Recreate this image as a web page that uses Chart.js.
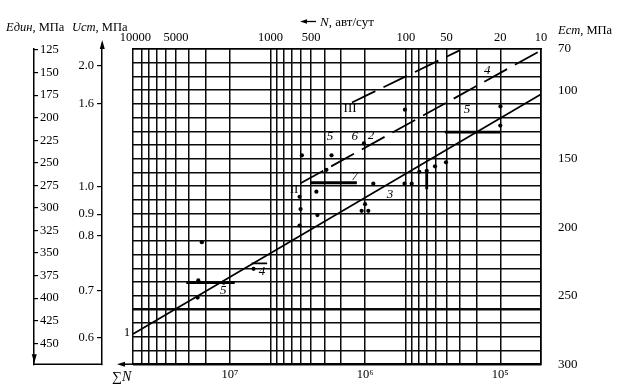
<!DOCTYPE html>
<html><head><meta charset="utf-8">
<script src="https://cdn.jsdelivr.net/npm/chart.js@4.4.1/dist/chart.umd.min.js"></script>
<style>html,body{margin:0;padding:0;background:#fff}#wrap{width:626px;height:389px;position:relative}</style>
</head><body><div id="wrap"><canvas id="c"></canvas></div>
<script>
// ---- scale definitions / tick labels ----
const sumNRange = [5e4, 5.2e7];
const sumNGrid = [5.2e7,4.5e7,4e7,3.5e7,3e7,2.5e7,2e7,1.5e7,1e7,5e6,4.5e6,4e6,3.5e6,3e6,2.5e6,2e6,1.5e6,1e6,5e5,4.5e5,4e5,3.5e5,3e5,2.5e5,2e5,1.5e5,1e5,5e4];
const sumNLabelValues = [1e7, 1e6, 1e5];
const sumNLabelTexts = ['10\u2077', '10\u2076', '10\u2075'];
const nRange = [10, 10400];
const nTicks = [10000, 5000, 1000, 500, 100, 50, 20, 10];
const estRange = [70, 300];
const estLabels = [70, 100, 150, 200, 250, 300];
const edinRange = [123.9, 473.1];
const edinTicks = [125,150,175,200,225,250,275,300,325,350,375,400,425,450];
const ustLabels = ['2.0','1.6','1.0','0.9','0.8','0.7','0.6'];
const ustAtEst = [82.1, 109.9, 170.7, 190.5, 206.2, 246.1, 280.7];

// ---- series (x = ΣN, y = Ест, МПа) ----
const line1 = [{x:5.2e7, y:278}, {x:5e4, y:103}];
const line2 = [{x:3e6, y:168}, {x:5e4, y:71}];
const line3 = [{x:1.25e6, y:109}, {x:2e5, y:71}];
const segA = [{x:2.1e7, y:240.5}, {x:9.2e6, y:240.5}];
const segB = [{x:6.9e6, y:226.4}, {x:5.3e6, y:226.4}];
const segC = [{x:2.55e6, y:167.6}, {x:1.15e6, y:167.6}];
const segD = [{x:2.57e5, y:130.6}, {x:1e5, y:130.6}];
const segV = [{x:3.5e5, y:158.5}, {x:3.5e5, y:172.3}];
const pointsX = [1.61e7,1.71e7,1.11e7,1.73e7,6.68e6,2.93e6,1.77e6,1.02e6,1.93e6,2.29e6,3.05e6,3.0e6,2.25e6,3.05e6,8.69e5,5.11e5,4.52e5,3.97e5,3.5e5,3.04e5,2.52e5,1.0e6,1.06e6,9.46e5,5.07e5,9.97e4,1e5];
const pointsY = [211.0,238.9,240.5,251.4,230.4,147.6,147.6,138.9,158.2,174.1,177.8,186.8,191.2,198.8,168.3,168.3,168.3,159.6,158.9,155.6,152.7,183.2,188.1,188.1,114.3,111.9,125.9];
const labelTexts = ['1','II','III','3','7','5','6','2','4','5','4','5'];
const labelItalic = [false,false,false,true,true,true,true,true,true,true,true,true];
const labelX = [5.76e7,3.35e6,1.29e6,6.54e5,1.19e6,1.82e6,1.19e6,9.04e5,1.25e5,1.76e5,5.78e6,1.12e7];
const labelY = [276.8,172.3,113.5,176,162.9,133.9,133.9,133.1,86,114.3,232.6,246.3];

const SERIF = '"Liberation Serif","Times New Roman",serif';
Chart.defaults.color = '#000';
Chart.defaults.font.family = SERIF;

const pts = pointsX.map((x,i)=>({x, y:pointsY[i]}));
const lbl = labelX.map((x,i)=>({x, y:labelY[i]}));

function arrowHead(ctx, x, y, dir, len, half){
  ctx.beginPath();
  if (dir==='up'){ctx.moveTo(x,y);ctx.lineTo(x-half,y+len);ctx.lineTo(x+half,y+len);}
  if (dir==='down'){ctx.moveTo(x,y);ctx.lineTo(x-half,y-len);ctx.lineTo(x+half,y-len);}
  if (dir==='left'){ctx.moveTo(x,y);ctx.lineTo(x+len,y-half);ctx.lineTo(x+len,y+half);}
  ctx.closePath();ctx.fill();
}
function runs(ctx, x, y, parts, size){
  let cx = x;
  ctx.textAlign='left'; ctx.textBaseline='alphabetic';
  for (const [t, it] of parts){
    ctx.font = (it?'italic ':'') + size + 'px ' + SERIF;
    ctx.fillText(t, cx, y);
    cx += ctx.measureText(t).width;
  }
}
const decor = {
  id:'decor',
  beforeDraw(chart){const c=chart.ctx;c.save();c.fillStyle='#fff';c.fillRect(0,0,chart.width,chart.height);c.restore();},
  afterDatasetsDraw(chart){
    const ctx=chart.ctx;
    chart.data.datasets.forEach((ds,i)=>{
      if(!ds.textLabels) return;
      const meta=chart.getDatasetMeta(i);
      ctx.save();ctx.fillStyle='#000';ctx.textAlign='center';ctx.textBaseline='middle';
      meta.data.forEach((el,j)=>{
        ctx.font=(ds.textItalic[j]?'italic ':'')+'13px '+SERIF;
        ctx.fillText(ds.textLabels[j], el.x, el.y);
      });
      ctx.restore();
    });
  },
  afterDraw(chart){
    const ctx=chart.ctx, ca=chart.chartArea;
    const yU=chart.scales.yU, yEd=chart.scales.yEd;
    ctx.save();
    ctx.strokeStyle='#000';ctx.fillStyle='#000';ctx.lineWidth=1.5;
    const ux=Math.round(yU.right)+0.25;
    ctx.beginPath();ctx.moveTo(ux,ca.top);ctx.lineTo(ux,ca.top-6);ctx.stroke();
    arrowHead(ctx,ux,ca.top-9,'up',9,2.5);
    const ex=Math.round(yEd.right)+0.25;
    arrowHead(ctx,ex,ca.bottom-1,'down',9,2.5);
    ctx.beginPath();ctx.moveTo(ex-1,ca.bottom);ctx.lineTo(ux,ca.bottom);ctx.stroke();
    ctx.beginPath();ctx.moveTo(ca.left,ca.bottom);ctx.lineTo(ca.left-10,ca.bottom);ctx.stroke();
    arrowHead(ctx,ca.left-16,ca.bottom,'left',8,2.5);
    ctx.lineWidth=1.3;
    ctx.beginPath();ctx.moveTo(316,21.5);ctx.lineTo(306,21.5);ctx.stroke();
    arrowHead(ctx,300,21.5,'left',7,2.3);
    runs(ctx,320,26,[['N',true],[', авт/сут',false]],13);
    runs(ctx,6,31,[['Eдин',true],[', МПа',false]],12.5);
    runs(ctx,72,31,[['Uст',true],[', МПа',false]],12.5);
    runs(ctx,558,34,[['Ест',true],[', МПа',false]],12.5);
    runs(ctx,112,381,[['\u2211',false],['N',true]],14);
    ctx.restore();
  }
};

const gridCol = '#0a0a0a';
new Chart(document.getElementById('c'), {
  type:'scatter',
  data:{datasets:[
    {data:line1, showLine:true, borderColor:'#000', borderWidth:1.7, pointRadius:0},
    {data:line2, showLine:true, borderColor:'#000', borderWidth:1.8, borderDash:[26,9], pointRadius:0},
    {data:line3, showLine:true, borderColor:'#000', borderWidth:1.8, borderDash:[26,9], pointRadius:0},
    {data:segA, showLine:true, borderColor:'#000', borderWidth:2.8, pointRadius:0},
    {data:segB, showLine:true, borderColor:'#000', borderWidth:1.6, pointRadius:0},
    {data:segC, showLine:true, borderColor:'#000', borderWidth:2.8, pointRadius:0},
    {data:segD, showLine:true, borderColor:'#000', borderWidth:2.8, pointRadius:0},
    {data:segV, showLine:true, borderColor:'#000', borderWidth:2.8, pointRadius:0},
    {data:pts, showLine:false, pointRadius:2.1, backgroundColor:'#000', borderWidth:0},
    {data:lbl, showLine:false, pointRadius:0, textLabels:labelTexts, textItalic:labelItalic, clip:false}
  ]},
  options:{
    responsive:true, maintainAspectRatio:false, animation:false,
    layout:{padding:{left:0,right:0,top:0,bottom:0}},
    plugins:{legend:{display:false}, tooltip:{enabled:false}},
    scales:{
      x:{type:'logarithmic', position:'bottom', min:sumNRange[0], max:sumNRange[1], reverse:true,
        afterBuildTicks:s=>{s.ticks=sumNGrid.map(v=>({value:v}));},
        afterFit:s=>{s.height=23;},
        grid:{color:gridCol, lineWidth:1.5, drawTicks:false},
        border:{display:true,color:'#000',width:1.6},
        ticks:{autoSkip:false,maxRotation:0,padding:3,font:{size:12.5},
          callback:v=>{const i=sumNLabelValues.indexOf(v);return i>=0?sumNLabelTexts[i]:'';}}},
      xTop:{type:'logarithmic', axis:'x', position:'top', min:nRange[0], max:nRange[1], reverse:true,
        afterBuildTicks:s=>{s.ticks=nTicks.map(v=>({value:v}));},
        afterFit:s=>{s.height=49;},
        grid:{display:false,drawTicks:false},
        border:{display:true,color:'#000',width:1.6},
        ticks:{autoSkip:false,maxRotation:0,padding:4,font:{size:12.5},callback:v=>String(v)}},
      y:{type:'linear', position:'right', min:estRange[0], max:estRange[1], reverse:true,
        ticks:{stepSize:10,padding:17,font:{size:13},autoSkip:false,
          callback:v=>estLabels.includes(Math.round(v))?String(Math.round(v)):''},
        afterFit:s=>{s.width=85;},
        grid:{color:gridCol, lineWidth:c=>(c.tick&&Math.round(c.tick.value)===260)?2.5:1.4, drawTicks:false},
        border:{display:true,color:'#000',width:1.6}},
      yU:{type:'linear', axis:'y', position:'left', weight:2, min:estRange[0], max:estRange[1], reverse:true,
        afterBuildTicks:s=>{s.ticks=ustAtEst.map(v=>({value:v}));},
        afterFit:s=>{s.width=68;},
        grid:{drawOnChartArea:false,drawTicks:true,tickLength:5,color:'#000',lineWidth:1.2},
        border:{display:true,color:'#000',width:1.5},
        ticks:{autoSkip:false,padding:3,font:{size:12.5},callback:(v,i)=>ustLabels[i]}},
      yEd:{type:'linear', axis:'y', position:'left', weight:3, min:edinRange[0], max:edinRange[1], reverse:true,
        afterBuildTicks:s=>{s.ticks=edinTicks.map(v=>({value:v}));},
        afterFit:s=>{s.width=34;},
        grid:{drawOnChartArea:false,drawTicks:true,tickLength:-4,color:'#000',lineWidth:1.2},
        border:{display:true,color:'#000',width:1.5},
        ticks:{autoSkip:false,mirror:true,padding:6,font:{size:12.5},callback:v=>String(v)}},
      ySpacer:{type:'linear', axis:'y', position:'left', weight:1, display:true,
        afterFit:s=>{s.width=31;},
        grid:{display:false,drawTicks:false}, border:{display:false}, ticks:{display:false}}
    }
  },
  plugins:[decor]
});
</script></body></html>
